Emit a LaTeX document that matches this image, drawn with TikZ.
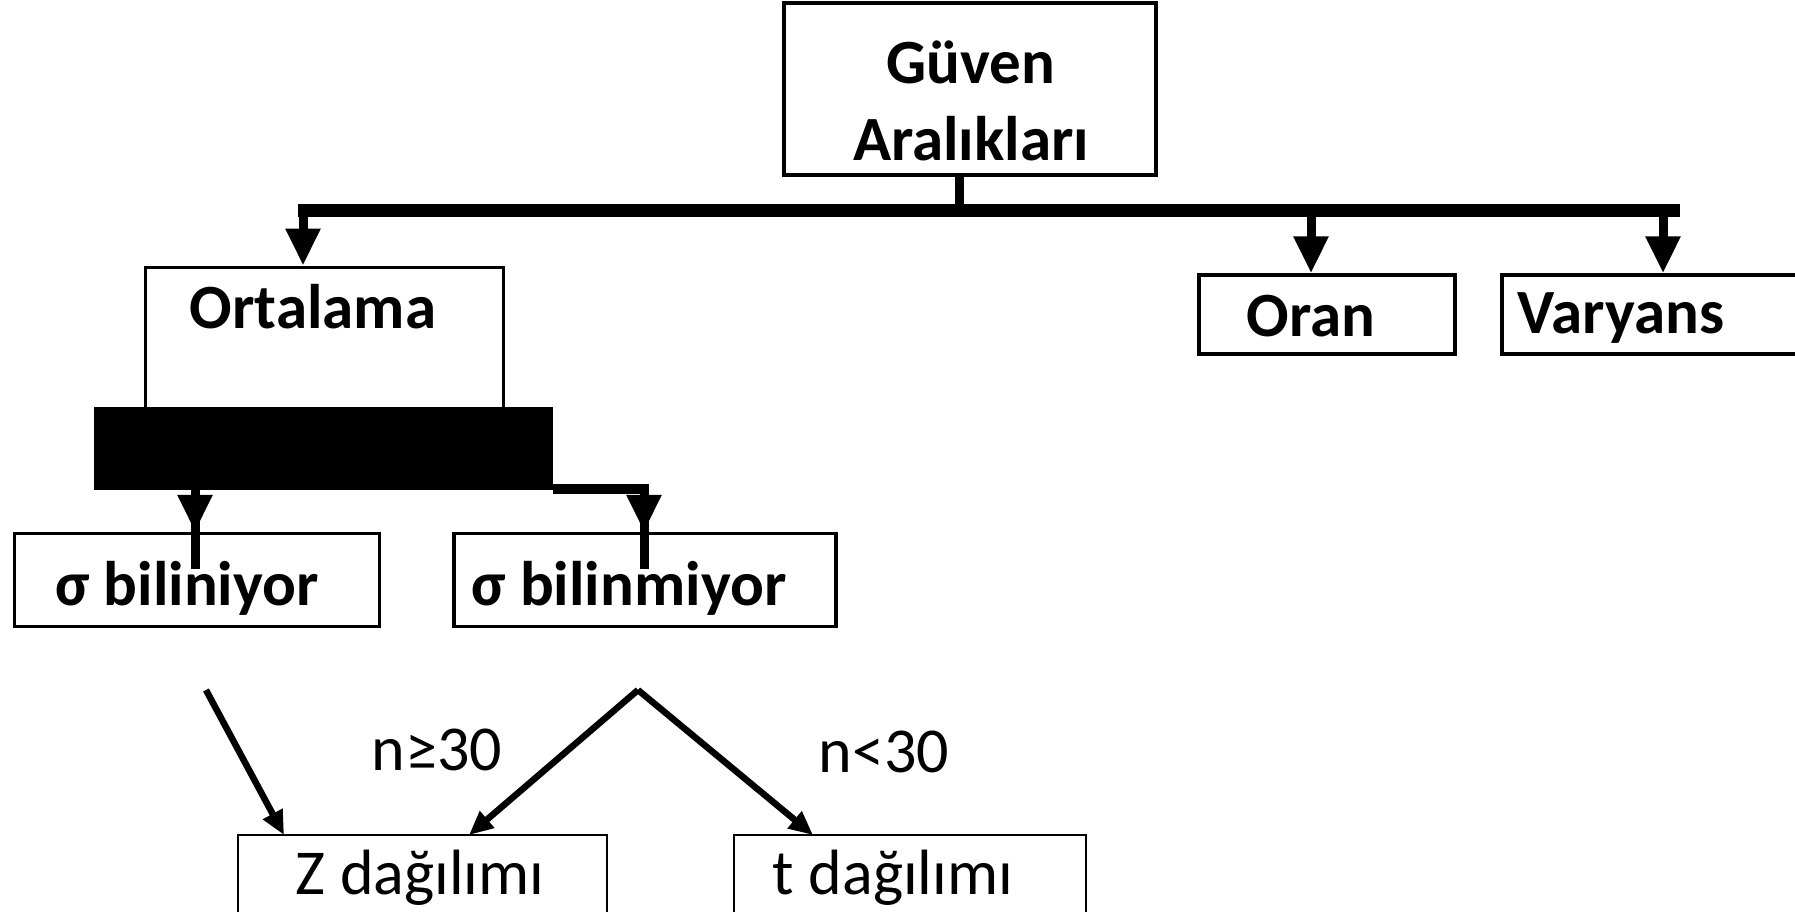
\documentclass[tikz,border=0pt]{standalone}
\usepackage{fontspec}
\setmainfont{Carlito}
\usetikzlibrary{arrows.meta}
\begin{document}
\begin{tikzpicture}[x=1pt,y=-1pt,
  box/.style={draw=black, line width=3.5pt, inner sep=0pt},
  thinbox/.style={draw=black, line width=2.4pt, inner sep=0pt},
  lbl/.style={inner sep=0pt, font=\fontsize{63}{77}\selectfont\bfseries, text=black},
  lblr/.style={inner sep=0pt, font=\fontsize{64}{77}\selectfont, text=black},
  stem/.style={line width=9pt},
  bigarrow/.style={line width=9pt, -{Triangle[length=37pt,width=33pt]}},
  smallarrow/.style={line width=6.5pt, -{Triangle[length=24pt,width=21pt]}}
]
\useasboundingbox (0,0) rectangle (1795,911);
\clip (0,0) rectangle (1795,911);
% boxes
\node[box, minimum width=372pt, minimum height=172pt] (gv) at (970,89) {};
\node[lbl, align=center] (gvt) at (971,101) {Güven\\Aralıkları};
\node[box, line width=3pt, minimum width=358pt, minimum height=142pt] (ort) at (324,338) {};
\node[lbl] (ortt) at (313,307) {Ortalama};
\node[box, minimum width=256pt, minimum height=79pt] (oran) at (1327,314.5) {};
\node[lbl] (orant) at (1311,316) {Oran};
\node[box, minimum width=320pt, minimum height=79pt] (var) at (1662,314.5) {};
\node[lbl] (vart) at (1621,318) {Varyans};
\node[fill=black, inner sep=0pt, minimum width=459pt, minimum height=83pt] (blk) at (323.5,448.5) {};
\node[box, minimum width=365pt, minimum height=93pt] (bil) at (197,580) {};
\node[lbl] (bilt) at (187,588) {σ biliniyor};
\node[box, minimum width=382pt, minimum height=93pt] (bm) at (645,580) {};
\node[lbl] (bmt) at (629,588) {σ bilinmiyor};
\node[thinbox, minimum width=369pt, minimum height=200pt] (z) at (422.5,935) {};
\node[lblr] (zt) at (420,878) {Z dağılımı};
\node[thinbox, minimum width=352pt, minimum height=200pt] (t) at (910,935) {};
\node[lblr] (tt) at (893,878) {t dağılımı};
\node[lblr] (n1) at (437,750) {n≥30};
\node[lblr] (n2) at (884,752) {n<30};
% top connectors
\coordinate (barL) at (298,210);
\coordinate (barR) at (1680,210);
\draw[line width=13pt] (barL) -- (barR);
\coordinate (stub) at (959,175);
\draw[line width=9pt] (stub) -- (stub |- barL);
\coordinate (a1) at (303,210);
\coordinate (a2) at (1311,210);
\coordinate (a3) at (1663,210);
\draw[bigarrow] (a1) -- (a1 |- ort.north);
\draw[bigarrow] (a2) -- (a2 |- oran.north);
\draw[bigarrow] (a3) -- (a3 |- var.north);
% black block connectors
\coordinate (c1) at (195,485);
\coordinate (c2) at (644,489);
\coordinate (c1e) at (195,569);
\coordinate (c2e) at (644,569);
\draw[stem] (c1) -- (c1e);
\draw[bigarrow] (c1) -- (c1 |- bil.north);
\draw[line width=10pt] (c2 -| blk.east) -- (c2);
\draw[stem] (c2) ++(0,-5) -- (c2e);
\draw[bigarrow] (c2) -- (c2 |- bm.north);
% lower arrows
\coordinate (s1) at (206,690);
\coordinate (s2) at (638,690);
\coordinate (z1) at (284,835);
\coordinate (z2) at (469,835);
\coordinate (t1) at (813,835);
\draw[smallarrow] (s1) -- (z1);
\draw[smallarrow] (s2) -- (z2);
\draw[smallarrow] (s2) -- (t1);
\end{tikzpicture}
\end{document}
